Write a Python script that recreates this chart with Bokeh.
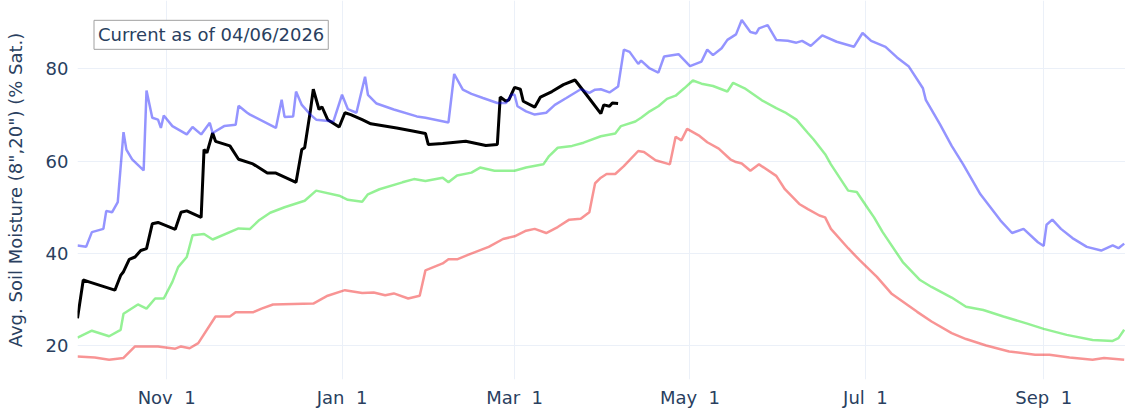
import datetime as dt
from bokeh.plotting import figure
from bokeh.models import Range1d, FixedTicker, DatetimeTickFormatter, Label
from bokeh.embed import file_html
from bokeh.resources import INLINE

# ---- data (day offsets from Oct 1 of the water year, values in % saturation) ----
current_days = [0, 2, 4, 13, 15, 16, 18, 20, 22, 24, 26, 28, 34, 36, 38, 43, 44, 45, 47, 48,
                53, 56, 61, 66, 69, 76, 78, 79, 81, 82, 84, 85, 87, 91, 93, 95, 99, 102, 111,
                117, 121, 122, 127, 135, 142, 146, 147, 149, 150, 152, 154, 155, 159, 161, 165,
                169, 173, 177, 182, 183, 185, 186, 188]
current_vals = [25.9, 34.2, 33.8, 32.0, 35.2, 36.0, 38.7, 39.2, 40.6, 41.0, 46.4, 46.7, 45.2, 48.9,
                49.2, 47.8, 62.5, 61.8, 66.1, 64.3, 63.3, 60.4, 59.4, 57.4, 57.4, 55.4, 62.5, 62.9,
                71.0, 75.6, 71.2, 71.8, 69.0, 67.4, 70.5, 70.1, 69.0, 68.1, 67.2, 66.5, 66.0, 63.6,
                63.8, 64.3, 63.4, 63.6, 73.9, 73.0, 73.3, 76.0, 75.6, 73.0, 71.7, 73.9, 75.1, 76.6,
                77.6, 74.4, 70.3, 72.2, 71.9, 72.6, 72.5]

max_days = [0, 3, 5, 9, 10, 12, 14, 16, 17, 19, 23, 24, 26, 28, 29, 30, 33, 38, 40, 43, 46, 47,
            51, 55, 56, 59, 60, 69, 71, 72, 75, 76, 78, 81, 83, 89, 92, 94, 97, 100, 101, 104,
            110, 118, 121, 129, 131, 134, 137, 141, 146, 149, 151, 152, 153, 156, 159, 163, 166,
            170, 175, 178, 180, 182, 185, 188, 190, 192, 195, 196, 199, 202, 204, 209, 213, 217,
            219, 221, 224, 226, 229, 231, 234, 236, 237, 240, 243, 247, 250, 252, 255, 259, 264,
            270, 273, 276, 281, 285, 289, 294, 295, 300, 304, 308, 314, 321, 325, 329, 334, 336,
            337, 339, 342, 346, 351, 356, 360, 362, 364]
max_vals = [41.7, 41.4, 44.6, 45.3, 49.2, 48.9, 51.1, 66.3, 62.5, 60.4, 58.0, 75.3, 69.4, 69.0,
            67.2, 69.9, 67.6, 65.8, 67.4, 65.8, 68.3, 66.1, 67.6, 67.9, 72.0, 70.5, 70.1, 67.2,
            73.3, 69.6, 69.7, 75.1, 72.2, 70.1, 69.0, 68.6, 74.4, 71.3, 70.5, 78.3, 74.4, 72.5,
            71.2, 69.7, 69.4, 68.4, 78.9, 75.5, 74.6, 73.7, 72.6, 72.6, 74.4, 74.4, 71.9, 70.8,
            70.1, 70.5, 72.2, 73.7, 75.6, 74.8, 75.5, 75.6, 74.9, 76.2, 84.2, 83.7, 81.1, 81.8,
            80.1, 79.2, 82.7, 83.2, 80.6, 81.6, 84.2, 83.0, 84.5, 86.3, 87.5, 90.6, 88.0, 87.7,
            88.8, 89.5, 86.3, 86.1, 85.7, 86.1, 85.0, 87.3, 85.9, 84.8, 87.8, 86.1, 84.8, 82.5,
            80.6, 75.8, 73.3, 67.9, 63.3, 59.3, 52.8, 47.1, 44.4, 45.3, 42.4, 41.6, 46.2, 47.3,
            45.3, 43.3, 41.4, 40.6, 41.7, 41.1, 42.1]

median_days = [0, 5, 11, 15, 16, 21, 24, 27, 30, 33, 35, 38, 40, 44, 47, 56, 60, 63, 67, 72, 79,
               83, 91, 94, 99, 101, 105, 113, 117, 121, 127, 129, 132, 137, 140, 145, 152, 156,
               162, 164, 167, 172, 176, 182, 187, 189, 194, 196, 199, 202, 205, 208, 211, 214,
               217, 221, 226, 228, 232, 238, 243, 246, 250, 254, 256, 260, 262, 268, 271, 275,
               277, 280, 287, 293, 297, 304, 309, 315, 322, 330, 336, 344, 353, 360, 362, 364]
median_vals = [21.7, 23.2, 22.0, 23.4, 26.9, 28.9, 28.0, 30.2, 30.2, 33.8, 37.0, 39.2, 43.9, 44.2,
               43.0, 45.4, 45.3, 47.1, 48.8, 50.0, 51.4, 53.6, 52.5, 51.6, 51.2, 52.8, 53.9, 55.4,
               56.1, 55.7, 56.4, 55.4, 56.9, 57.5, 58.6, 57.9, 57.9, 58.6, 59.3, 61.1, 62.9, 63.3,
               64.0, 65.4, 66.0, 67.6, 68.6, 69.4, 70.8, 71.9, 73.5, 74.2, 75.8, 77.5, 76.8, 76.3,
               75.1, 77.0, 75.8, 73.2, 71.5, 70.6, 69.0, 66.1, 64.7, 61.5, 59.3, 53.6, 53.3, 49.6,
               47.8, 44.6, 38.1, 34.2, 32.7, 30.4, 28.4, 27.7, 26.3, 24.8, 23.6, 22.3, 21.2, 21.0,
               21.6, 23.4]

min_days = [0, 6, 11, 16, 20, 28, 34, 36, 39, 42, 48, 53, 55, 61, 64, 68, 82, 87, 93, 99, 103,
            107, 110, 115, 119, 121, 127, 129, 132, 136, 143, 148, 152, 156, 159, 163, 167, 171,
            175, 178, 179, 180, 182, 184, 187, 190, 195, 197, 201, 206, 208, 210, 212, 216, 219,
            223, 227, 229, 231, 234, 237, 243, 246, 251, 254, 258, 260, 262, 268, 272, 278, 283,
            292, 297, 304, 309, 316, 324, 333, 338, 345, 353, 357, 364]
min_vals = [17.6, 17.4, 16.9, 17.3, 19.8, 19.8, 19.3, 19.8, 19.4, 20.5, 26.3, 26.3, 27.2, 27.2,
            28.0, 28.9, 29.1, 30.8, 32.0, 31.4, 31.5, 30.9, 31.3, 30.2, 30.8, 36.3, 37.8, 38.7,
            38.7, 39.7, 41.4, 43.1, 43.7, 44.9, 45.3, 44.4, 45.7, 47.3, 47.5, 48.9, 52.1, 55.2,
            56.4, 57.2, 57.2, 58.9, 62.2, 62.0, 60.2, 59.3, 65.3, 64.5, 67.0, 65.6, 64.1, 62.7,
            60.4, 59.8, 59.5, 57.9, 59.3, 56.8, 53.9, 50.7, 49.6, 48.2, 47.8, 45.3, 41.1, 38.5,
            34.9, 31.3, 27.3, 25.2, 22.7, 21.4, 20.0, 18.7, 18.0, 18.0, 17.4, 16.9, 17.3, 16.9]

tick_dates = ["2023-11-01", "2024-01-01", "2024-03-01", "2024-05-01", "2024-07-01", "2024-09-01"]
y_ticks = [20, 40, 60, 80]
note_text = "Current as of 04/06/2026"
y_title = 'Avg. Soil Moisture (8",20") (% Sat.)'

# ---- helpers ----
BASE = dt.datetime(2023, 10, 1)
EPOCH = dt.datetime(1970, 1, 1)


def to_dt(days):
    return [BASE + dt.timedelta(days=d) for d in days]


def ms(d):
    return (d - EPOCH).total_seconds() * 1000.0


TEXT = "#2a3f5f"
GRID = "#ebf0f8"
FONT = "DejaVu Sans"

p = figure(width=1125, height=410, x_axis_type="datetime",
           output_backend="svg", toolbar_location=None,
           min_border_left=77, min_border_right=0, min_border_top=0, min_border_bottom=28,
           x_range=Range1d(ms(BASE), ms(BASE + dt.timedelta(days=364.45))),
           y_range=Range1d(12.62, 94.85))
p.outline_line_color = None
p.background_fill_color = "white"

p.line(to_dt(current_days), current_vals, line_color="black", line_width=3)
p.line(to_dt(max_days), max_vals, line_color="#0000ff", line_alpha=0.42, line_width=2.5)
p.line(to_dt(median_days), median_vals, line_color="#00dd00", line_alpha=0.42, line_width=2.5)
p.line(to_dt(min_days), min_vals, line_color="#ee0000", line_alpha=0.42, line_width=2.5)

p.xaxis.ticker = FixedTicker(ticks=[ms(dt.datetime.fromisoformat(t)) for t in tick_dates])
fmt = "%b\u00a0%e"
p.xaxis.formatter = DatetimeTickFormatter(days=fmt, months=fmt, years=fmt, hours=fmt,
                                          minutes=fmt, seconds=fmt, milliseconds=fmt,
                                          microseconds=fmt, context=None)
p.yaxis.ticker = FixedTicker(ticks=y_ticks)

for ax in (p.xaxis, p.yaxis):
    ax.axis_line_color = None
    ax.major_tick_line_color = None
    ax.minor_tick_line_color = None
    ax.major_tick_out = 0
    ax.major_tick_in = 0
    ax.major_label_text_font = FONT
    ax.major_label_text_font_size = "18px"
    ax.major_label_text_color = TEXT

p.xaxis.major_label_standoff = 7
p.yaxis.major_label_standoff = 9
p.yaxis.axis_label = y_title
p.yaxis.axis_label_text_font = FONT
p.yaxis.axis_label_text_font_size = "18px"
p.yaxis.axis_label_text_font_style = "normal"
p.yaxis.axis_label_text_color = TEXT
p.yaxis.axis_label_standoff = 17

p.xgrid.grid_line_color = GRID
p.ygrid.grid_line_color = GRID
p.xgrid.grid_line_width = 1
p.ygrid.grid_line_width = 1

note = Label(x=ms(BASE + dt.timedelta(days=5.74)), y=90.55, x_units="data", y_units="data",
             text=note_text, text_font=FONT, text_font_size="18px", text_color=TEXT,
             text_align="left", text_baseline="top",
             border_line_color="#a0a0a0", border_line_width=1,
             background_fill_color="white", padding=4)
p.add_layout(note)

open("out.html", "w").write(file_html(p, INLINE))
